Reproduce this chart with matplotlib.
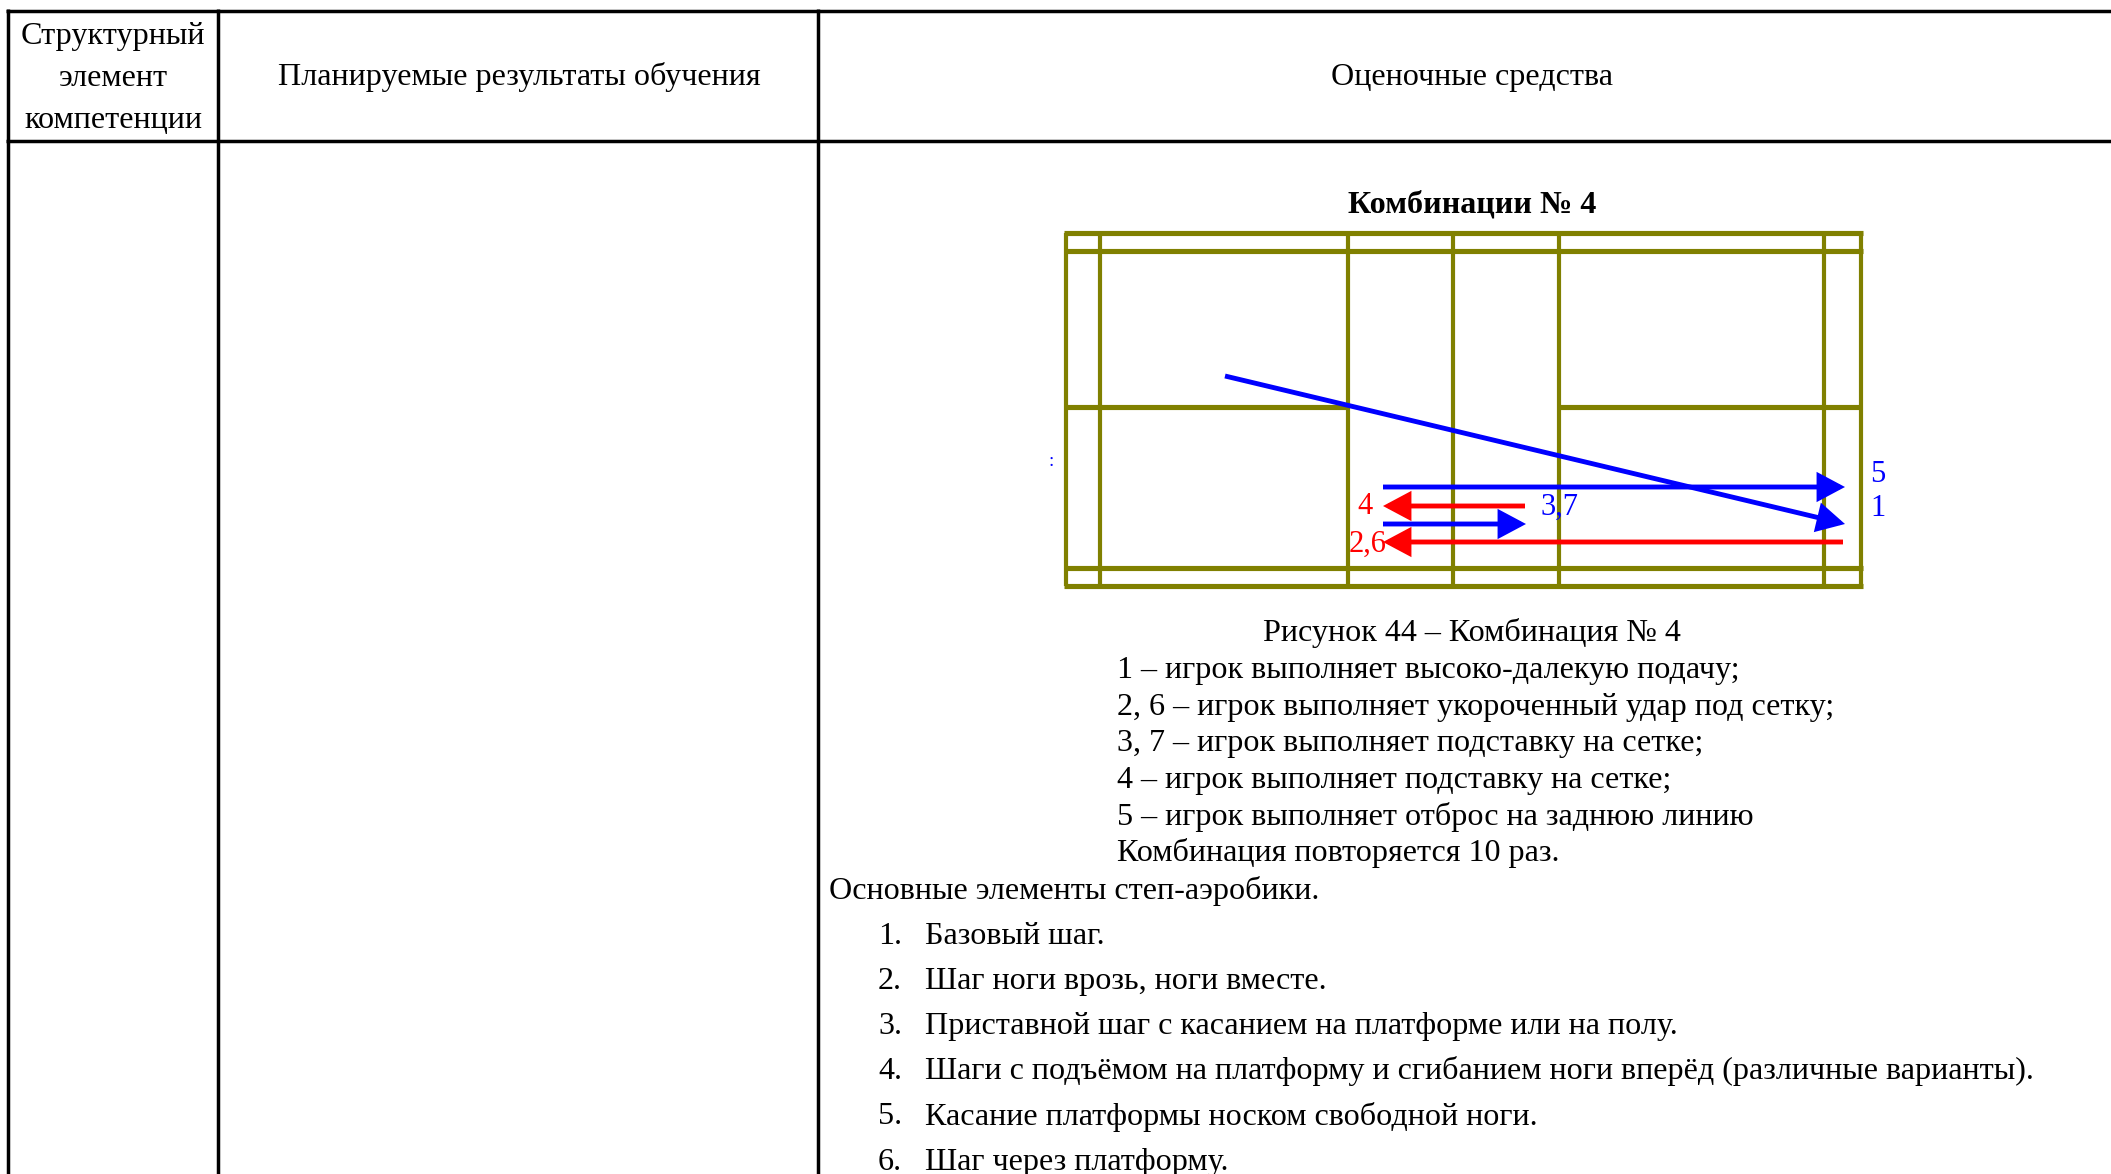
import matplotlib
matplotlib.use("Agg")
import matplotlib.pyplot as plt

W, H = 2111, 1174
SERIF = "Liberation Serif"
OLIVE, BLUE, RED = "#808000", "#0000ff", "#ff0000"

# table
table_columns_x = [8, 218, 818]
table_rows_y = [11, 141]
header_cells = [
    (113, 33, "Структурный"), (113, 75, "элемент"), (113, 117, "компетенции"),
    (519, 74, "Планируемые результаты обучения"),
    (1472, 74, "Оценочные средства"),
]

# court diagram
court_v_x = [1066, 1100, 1348, 1453, 1559, 1824, 1861]
court_h_y = [233, 251, 568, 586]
center_y = 407
center_segments = [(1066, 1348), (1559, 1861)]

arrows = [
    (1225, 376, 1845, 524, BLUE),
    (1383, 487, 1845, 487, BLUE),
    (1525, 506, 1383, 506, RED),
    (1383, 524, 1526, 524, BLUE),
    (1843, 542, 1383, 542, RED),
]
arrow_labels = [
    (1878, 474, "5", BLUE), (1878, 508, "1", BLUE), (1559, 507, "3,7", BLUE),
    (1365, 507, "4", RED), (1368, 544, "2,6", RED), (1051, 462, ":", BLUE),
]

# body text
title = "Комбинации № 4"
caption = "Рисунок 44 – Комбинация № 4"
legend_lines = [
    "1 – игрок выполняет высоко-далекую подачу;",
    "2, 6 – игрок выполняет укороченный удар под сетку;",
    "3, 7 – игрок выполняет подставку на сетке;",
    "4 – игрок выполняет подставку на сетке;",
    "5 – игрок выполняет отброс на заднюю линию",
    "Комбинация повторяется 10 раз.",
]
legend_y = [667, 704, 740, 777, 813, 850]
intro = "Основные элементы степ-аэробики."
items = [
    "Базовый шаг.",
    "Шаг ноги врозь, ноги вместе.",
    "Приставной шаг с касанием на платформе или на полу.",
    "Шаги с подъёмом на платформу и сгибанием ноги вперёд (различные варианты).",
    "Касание платформы носком свободной ноги.",
    "Шаг через платформу.",
]
items_y = [933, 978, 1023, 1068, 1113, 1159]

fig = plt.figure(figsize=(W / 100, H / 100), dpi=100, facecolor="white")
ax = fig.add_axes([0, 0, 1, 1])
ax.set_xlim(0, W)
ax.set_ylim(H, 0)
ax.axis("off")

LW_TABLE = 2.5
for x in table_columns_x:
    ax.plot([x, x], [table_rows_y[0] - 2, H], color="black", lw=LW_TABLE, solid_capstyle="butt")
for y in table_rows_y:
    ax.plot([table_columns_x[0] - 2, W], [y, y], color="black", lw=LW_TABLE, solid_capstyle="butt")

FS = 23.1
def txt(x, y, s, ha="left", **kw):
    kw.setdefault("fontsize", FS)
    kw.setdefault("family", SERIF)
    kw.setdefault("color", "black")
    ax.text(x, y, s, ha=ha, va="center_baseline", **kw)

for x, y, s in header_cells:
    txt(x, y, s, ha="center")

LW_V, LW_H = 3.0, 3.7
for x in court_v_x:
    ax.plot([x, x], [court_h_y[0], court_h_y[-1]], color=OLIVE, lw=LW_V, solid_capstyle="butt")
for y in court_h_y:
    ax.plot([court_v_x[0] - 2, court_v_x[-1] + 2], [y, y], color=OLIVE, lw=LW_H, solid_capstyle="butt")
for a, b in center_segments:
    ax.plot([a, b], [center_y, center_y], color=OLIVE, lw=LW_H, solid_capstyle="butt")

for x0, y0, x1, y1, c in arrows:
    ax.annotate("", xy=(x1, y1), xytext=(x0, y0), annotation_clip=False,
                arrowprops=dict(arrowstyle="-|>,head_length=15,head_width=8",
                                mutation_scale=1, color=c, lw=3.5,
                                shrinkA=0, shrinkB=0, capstyle="butt", joinstyle="miter"))

for x, y, s, c in arrow_labels:
    ax.text(x, y, s, color=c, ha="center", va="center", family=SERIF,
            fontsize=22 if s != ":" else 14, fontweight="normal")

txt(1472, 201, title, ha="center", fontweight="bold")
txt(1472, 629, caption, ha="center")
for y, s in zip(legend_y, legend_lines):
    txt(1117, y, s)
txt(829, 887, intro)
for i, (y, s) in enumerate(zip(items_y, items), start=1):
    txt(878, y, f"{i}.")
    txt(925, y, s)

fig.savefig("out.png", dpi=100, facecolor="white")
